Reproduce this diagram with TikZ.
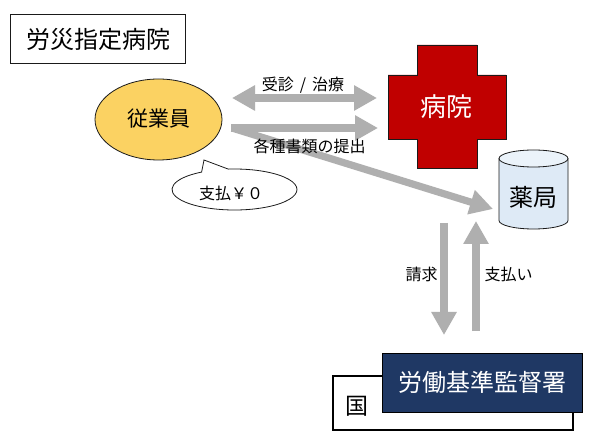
\documentclass[tikz,border=0pt]{standalone}
\usepackage{fontspec}
\setmainfont{Noto Sans CJK JP}
\usetikzlibrary{arrows.meta,shapes.geometric,shapes.callouts}
\definecolor{arrowgrey}{HTML}{AFAFAF}
\definecolor{empfill}{HTML}{FBD262}
\definecolor{crossred}{HTML}{C00000}
\definecolor{drugblue}{HTML}{DEEAF6}
\definecolor{navybox}{HTML}{1F3864}
\definecolor{inkline}{HTML}{1A1A1A}
\tikzset{
  x=1pt,y=-1pt,
  outl/.style={draw=inkline,line width=0.8pt},
  label16/.style={inner sep=0pt,font=\fontsize{16}{17}\selectfont,text=black},
  bigarrow/.style={draw=arrowgrey,line width=7.2pt,-{Triangle[length=23pt,width=24pt]}},
  dblarrow/.style={draw=arrowgrey,line width=7.2pt,{Triangle[length=23pt,width=24pt]}-{Triangle[length=23pt,width=24pt]}},
}
\begin{document}
\begin{tikzpicture}
\useasboundingbox[fill=white] (0,0) rectangle (597,446);
% title
\node[outl,minimum width=175pt,minimum height=49pt,inner sep=0pt] (title) at (97.5,38.5) {};
\node[inner sep=0pt,font=\fontsize{24}{26}\selectfont] (titletext) at (98.5,39) {労災指定病院};
% employee
\node[outl,ellipse,fill=empfill,minimum width=127pt,minimum height=81pt,inner sep=0pt] (emp) at (158.5,119.5) {};
\node[inner sep=0pt,font=\fontsize{21}{23}\selectfont] (emptext) at (158.5,119) {従業員};
% callout
\node[outl,ellipse callout,fill=white,minimum width=125pt,minimum height=41pt,inner sep=0pt,
  callout absolute pointer={(204,160)},callout pointer arc=26] (pay) at (234.5,189.5) {};
\node[inner sep=0pt,font=\fontsize{16}{17}\selectfont] (paytext) at (231,193) {支払￥０};
% hospital cross
\fill[crossred] (417,45) -- (477,45) -- (477,75) -- (506,75) -- (506,139) -- (477,139) -- (477,168) -- (417,168) -- (417,139) -- (388,139) -- (388,75) -- (417,75) -- cycle;
\draw[outl] (417,45) -- (477,45) -- (477,75) -- (506,75) -- (506,139) -- (477,139) -- (477,168) -- (417,168) -- (417,139) -- (388,139) -- (388,75) -- (417,75) -- cycle;
\node[text=white,inner sep=0pt,font=\fontsize{26}{28}\selectfont] (hosp) at (446,107) {病院};
% pharmacy
\fill[drugblue] (499,158.5) arc[x radius=34.5,y radius=8.5,start angle=180,end angle=360] -- (568,220.5) arc[x radius=34.5,y radius=8.5,start angle=0,end angle=180] -- cycle;
\fill[drugblue!60!white] (533.5,158.5) ellipse[x radius=34.5,y radius=8.5];
\draw[outl] (533.5,158.5) ellipse[x radius=34.5,y radius=8.5];
\draw[outl] (499,158.5) -- (499,220.5) arc[x radius=34.5,y radius=8.5,start angle=180,end angle=0] -- (568,158.5);
\node[inner sep=0pt,font=\fontsize{24}{26}\selectfont] (drug) at (533.5,197) {薬局};
% state boxes
\node[draw=black,line width=1.2pt,fill=white,minimum width=240pt,minimum height=54pt,inner sep=0pt] (state) at (453,403) {};
\node[inner sep=0pt,font=\fontsize{23}{25}\selectfont] (statetext) at (357,406) {国};
\node[draw=black,line width=0.8pt,fill=navybox,text=white,minimum width=200pt,minimum height=59pt,inner sep=0pt,font=\fontsize{24}{26}\selectfont] (office) at (482,382.5) {労働基準監督署};
% arrow ends
\coordinate (a1l) at (232,98);
\coordinate (a1r) at (377,98);
\coordinate (a2l) at (231,128);
\coordinate (a2r) at (378,128);
\coordinate (a3l) at (232,128);
\coordinate (a3r) at (493,209);
\coordinate (a4t) at (444,223);
\coordinate (a4b) at (444,335);
\coordinate (a5b) at (476,331);
\coordinate (a5t) at (476,221);
\draw[dblarrow] (a1l) -- (a1r);
\draw[bigarrow] (a2l) -- (a2r);
\draw[bigarrow] (a3l) -- (a3r);
\draw[bigarrow] (a4t) -- (a4b);
\draw[bigarrow] (a5b) -- (a5t);
% labels
\node[label16] (l1) at (303,85) {受診\hspace{6pt}/\hspace{6pt}治療};
\node[label16] (l2) at (309.5,146) {各種書類の提出};
\node[label16] (l3) at (421.5,274) {請求};
\node[label16] (l4) at (508.5,274) {支払い};
\end{tikzpicture}
\end{document}
